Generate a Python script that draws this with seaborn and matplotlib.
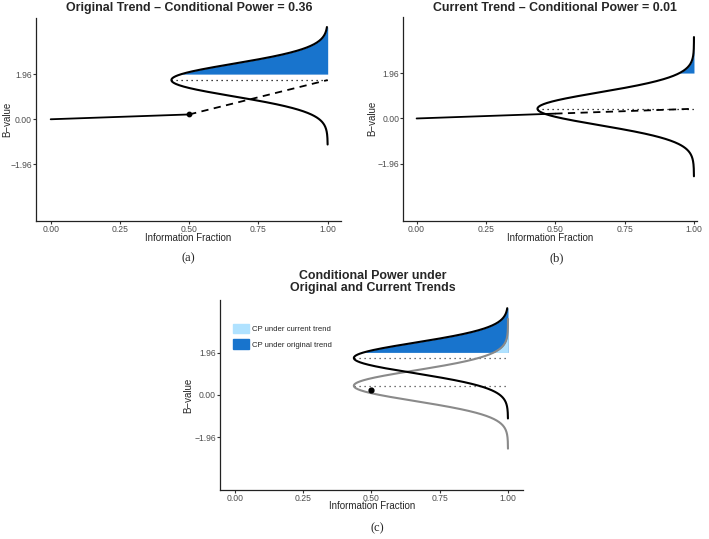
import numpy as np
import pandas as pd
import matplotlib
matplotlib.use("Agg")
import matplotlib.pyplot as plt
from matplotlib.patches import Patch
import seaborn as sns

# values
interim_frac = 0.5          # information fraction at the interim look
interim_b = 0.21            # observed B-value at the interim
original_drift = 3.0        # drift under the original design trend
z_crit = 1.96
cp_original = 0.36
cp_current = 0.01
# vertical extent of each sideways density curve
orig_range = (-1.10, 4.02)
curr_range = (-2.50, 3.52)

x_ticks = [0.00, 0.25, 0.50, 0.75, 1.00]
x_labels = ["0.00", "0.25", "0.50", "0.75", "1.00"]
y_ticks = [-1.96, 0.00, 1.96]
y_labels = ["\u22121.96", "0.00", "1.96"]

dark_blue = "#1874CD"
light_blue = "#B0E2FF"
grey = "#8A8A8A"

sns.set_style("ticks")
plt.rcParams["font.family"] = ["Liberation Sans", "DejaVu Sans"]

sd_rest = np.sqrt(1 - interim_frac)
mu_orig = interim_b + (1 - interim_frac) * original_drift
mu_curr = interim_b / interim_frac


def density_curve(mu, yr):
    y = np.linspace(yr[0], yr[1], 500)
    dens = np.exp(-0.5 * ((y - mu) / sd_rest) ** 2) / (sd_rest * np.sqrt(2 * np.pi))
    return pd.DataFrame({"x": 1 - dens, "y": y})


curve_orig = density_curve(mu_orig, orig_range)
curve_curr = density_curve(mu_curr, curr_range)
apex = 1 - 1 / (sd_rest * np.sqrt(2 * np.pi))

W, H = 709, 539
fig = plt.figure(figsize=(W / 100, H / 100), dpi=100)


def make_ax(l, r, t, b):
    return fig.add_axes([l / W, 1 - b / H, (r - l) / W, (b - t) / H])


def style_ax(ax, xlim, ylab_x, xlab_y):
    ax.set_xlim(*xlim)
    ax.set_ylim(-4.42, 4.40)
    ax.set_xticks(x_ticks)
    ax.set_xticklabels(x_labels)
    ax.set_yticks(y_ticks)
    ax.set_yticklabels(y_labels)
    ax.tick_params(labelsize=6.2, colors="#333333", labelcolor="#4D4D4D",
                   length=2, width=0.8, pad=0.8)
    for s in ["left", "bottom"]:
        ax.spines[s].set_linewidth(0.9)
        ax.spines[s].set_color("#222222")
    sns.despine(ax=ax)
    ax.set_xlabel("Information Fraction", fontsize=7)
    ax.set_ylabel("B\u2212value", fontsize=7)
    ax.xaxis.label.set_va("top")
    ax.yaxis.label.set_va("center")
    ax.yaxis.set_label_coords(ylab_x, 0.5)
    ax.xaxis.set_label_coords(0.5, xlab_y)


def fill_tail(ax, curve, color):
    tail = curve[curve["y"] >= z_crit]
    ax.fill_betweenx(tail["y"], tail["x"], 1, color=color, lw=0, zorder=1)


# (a) original trend
ax = make_ax(36, 340.7, 18.3, 220.7)
fill_tail(ax, curve_orig, dark_blue)
sns.lineplot(data=curve_orig, x="x", y="y", sort=False, estimator=None, color="black", lw=1.5, ax=ax, zorder=3)
ax.plot([0, interim_frac], [0, interim_b], color="black", lw=1.3)
ax.plot([interim_frac, 1], [interim_b, mu_orig], color="black", lw=1.3, ls=(0, (4, 3)))
ax.plot([apex, 1], [mu_orig, mu_orig], color="black", lw=0.9, ls=(0, (1, 3)))
ax.scatter([interim_frac], [interim_b], s=10, color="black", zorder=4)
style_ax(ax, (-0.053, 1.047), -0.095, -0.061)
fig.text(189 / W, 1 - 8 / H, f"Original Trend \u2013 Conditional Power = {cp_original:.2f}",
         ha="center", va="center", fontsize=8.9, fontweight="bold")
fig.text(188 / W, 1 - 258 / H, "(a)", ha="center", va="center", fontsize=9, family="Liberation Serif")

# (b) current trend
ax = make_ax(403.3, 697.3, 16.7, 220.7)
fill_tail(ax, curve_curr, dark_blue)
sns.lineplot(data=curve_curr, x="x", y="y", sort=False, estimator=None, color="black", lw=1.5, ax=ax, zorder=3)
ax.plot([0, interim_frac], [0, interim_b], color="black", lw=1.3)
ax.plot([interim_frac, 1], [interim_b, mu_curr], color="black", lw=1.3, ls=(0, (4, 3)))
ax.plot([apex, 1], [mu_curr, mu_curr], color="black", lw=0.9, ls=(0, (1, 3)))
style_ax(ax, (-0.048, 1.012), -0.1065, -0.0603)
fig.text(555 / W, 1 - 8 / H, f"Current Trend \u2013 Conditional Power = {cp_current:.2f}",
         ha="center", va="center", fontsize=8.9, fontweight="bold")
fig.text(557 / W, 1 - 258 / H, "(b)", ha="center", va="center", fontsize=9, family="Liberation Serif")

# (c) both trends
ax = make_ax(220, 523.3, 300, 490)
fill_tail(ax, curve_orig, dark_blue)
fill_tail(ax, curve_curr, light_blue)
sns.lineplot(data=curve_curr, x="x", y="y", sort=False, estimator=None, color=grey, lw=1.5, ax=ax, zorder=3)
sns.lineplot(data=curve_orig, x="x", y="y", sort=False, estimator=None, color="black", lw=1.5, ax=ax, zorder=3)
ax.plot([apex, 1], [mu_orig, mu_orig], color="#444444", lw=0.9, ls=(0, (1, 3)))
ax.plot([apex, 1], [mu_curr, mu_curr], color="#444444", lw=0.9, ls=(0, (1, 3)))
ax.scatter([interim_frac], [interim_b], s=12, color="black", zorder=4)
style_ax(ax, (-0.054, 1.056), -0.1055, -0.0605)
handles = [Patch(color=light_blue, label="CP under current trend"),
           Patch(color=dark_blue, label="CP under original trend")]
ax.legend(handles=handles, loc="upper left", bbox_to_anchor=(0.043, 0.874), frameon=False,
          fontsize=5.6, borderpad=0, borderaxespad=0, handlelength=2.0, handleheight=1.5,
          handletextpad=0.45, labelspacing=0.75)
fig.text(373 / W, 1 - 282 / H, "Conditional Power under\nOriginal and Current Trends",
         ha="center", va="center", fontsize=8.9, fontweight="bold", linespacing=1.05)
fig.text(377 / W, 1 - 528 / H, "(c)", ha="center", va="center", fontsize=9, family="Liberation Serif")

fig.savefig("out.png", dpi=100)
